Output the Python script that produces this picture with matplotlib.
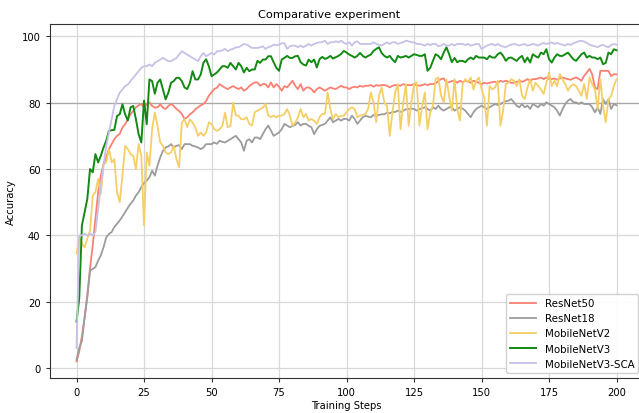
import matplotlib
matplotlib.use("Agg")
import matplotlib.pyplot as plt
import numpy as np

steps = np.arange(201)

resnet50 = [
    2, 5, 9.6, 15.3, 22, 30, 37, 45, 53, 58,
    61.5, 63.5, 66, 67.5, 69, 70, 70.6, 72.5, 73.5, 75,
    76.5, 77.5, 78.6, 79.2, 79.6, 78.5, 79.6, 80.1, 79, 78.5,
    78.6, 79.5, 78.5, 78.1, 79, 79.6, 79, 78.1, 77.5, 76.6,
    75.1, 75.6, 76.5, 77.1, 78, 78.6, 79.2, 79.6, 80.5, 82.1,
    83.1, 84.1, 84.5, 85.6, 85, 84.5, 84.1, 84.6, 85, 84.5,
    84.1, 84.6, 83.6, 84.1, 85, 85.6, 86.1, 86.1, 85.1, 85.6,
    85.6, 84.6, 86.1, 84.6, 85.6, 84.8, 83.6, 85, 84.6, 85.6,
    86.6, 85.1, 84.1, 85.6, 83.6, 84.5, 84.6, 84.1, 83.1, 84.1,
    84.6, 84.1, 83.6, 84.1, 84.6, 84.3, 84.1, 84.6, 85.1, 84.6,
    84.6, 84.1, 84.6, 84.8, 84.6, 85.1, 84.8, 85.1, 85.1, 85.3,
    84.8, 85.3, 85.1, 85.3, 85.3, 85.1, 84.6, 85.1, 85.3, 85.3,
    85.1, 85.6, 85.3, 85.3, 85.3, 85.6, 85.3, 85.1, 85.3, 85.6,
    85.3, 85.6, 85.6, 85.8, 86.5, 87.1, 87.3, 86, 86.2, 86.5,
    86.6, 86, 86.6, 86.2, 86.6, 86.4, 86, 86.6, 86.3, 86,
    85.6, 86, 85.8, 86, 86.2, 86.3, 86, 86.6, 86.3, 86.6,
    86.3, 86, 86, 86.3, 86.6, 86.3, 86.6, 87.1, 86.6, 87.1,
    87.1, 87.3, 87.6, 87.1, 87.6, 87.2, 87.1, 87.3, 86.9, 87.3,
    87.6, 87.3, 87.1, 86.9, 87.3, 87.6, 87.2, 86.6, 88.1, 89.1,
    90.2, 88.5, 84.5, 84.1, 89.6, 89.6, 89.6, 89.6, 88, 88.6,
    88.5,
]

resnet18 = [
    2.5, 6, 8.2, 15.3, 21.4, 29.4, 29.9, 30.4, 32.4, 34,
    36.4, 39.4, 40.4, 41, 42.5, 43.5, 44.5, 45.7, 47, 48.3,
    49.5, 50.5, 52, 53, 54.5, 55.8, 56.5, 57.5, 59.5, 58,
    61, 63.5, 65.5, 66.5, 66.8, 67.5, 66.5, 67, 67.2, 66,
    67.5, 67.5, 67.5, 67, 66.8, 66.5, 66, 66.5, 67.5, 67.5,
    67.5, 68, 67.6, 68.5, 68.2, 68, 68.5, 69, 69.5, 70,
    69, 68, 65.5, 68.5, 69, 68, 69.5, 69.5, 69, 70.5,
    72, 73.1, 71.6, 70, 70.5, 71, 72, 73.6, 73.1, 72.6,
    73, 73.3, 74.1, 73.1, 73.6, 73.6, 73, 72.6, 70.5, 72,
    73, 73.3, 73.6, 74.6, 75.6, 74.1, 74.6, 75.1, 74.6, 75.1,
    75.1, 74.6, 76.1, 75.1, 73.6, 74.6, 75.6, 76, 75.8, 75.6,
    76.3, 75.9, 76.3, 76.5, 76.5, 77, 76.8, 77.2, 77.2, 77.6,
    77.2, 77.6, 78, 78.1, 78.2, 78.1, 77.6, 78.1, 78.3, 78.6,
    78.1, 77.6, 78.6, 78.1, 79.1, 78.1, 77.6, 78.1, 78.6, 78.6,
    77.6, 78.1, 78.6, 78.2, 77.6, 76.6, 75.6, 77.1, 78.1, 78.6,
    79.1, 78.6, 78.1, 78.6, 79.1, 79.6, 79.3, 79.6, 80.1, 80.4,
    80.6, 81.1, 80.1, 79.1, 78.6, 79.6, 78.6, 79.1, 78.1, 79.6,
    79.1, 78.6, 79.6, 79.1, 80.1, 79.6, 79.1, 78.6, 77.6, 76.1,
    78.1, 79.6, 80.6, 81.1, 80.1, 80.1, 79.6, 80.1, 79.6, 79.6,
    79.6, 78.6, 77.1, 78.6, 76.6, 81.1, 79.6, 81, 78.1, 79.6,
    79.2,
]

mobilenet_v2 = [
    34.5, 39.5, 37.5, 36.4, 39, 41.4, 52, 53, 57, 52.5,
    61.5, 62, 66, 62, 63, 53, 50, 58, 67, 66,
    64.5, 64, 60, 67.5, 64, 43, 65, 61, 72, 77,
    73, 68, 67, 65, 64.5, 65, 67, 63, 60.5, 74,
    75, 72.6, 75, 74, 72.5, 70, 71, 70, 71, 74.1,
    73.5, 72, 71.5, 72, 73, 77, 72.6, 73, 80, 76.1,
    76.1, 75, 75, 75.6, 73.6, 73.1, 77.1, 77.6, 78, 78.5,
    79.6, 76.1, 75.6, 76.1, 75.6, 76, 76.1, 76.6, 78.1, 76.1,
    73.1, 74, 75.5, 78.1, 75.6, 76.6, 74.6, 75.1, 74.5, 73.6,
    75.6, 76.6, 76.6, 83.1, 78.1, 75.1, 76.6, 75.6, 76, 76.1,
    77.1, 78.1, 78.6, 78.1, 75.6, 76.1, 76.3, 76.6, 78.1, 83.1,
    80, 74.1, 82, 84.6, 80, 79, 70, 77, 83.1, 85.6,
    72, 80, 85.6, 73, 80, 85.6, 86.1, 73.1, 79, 83.1,
    72, 77, 79.1, 87.1, 87.6, 82.1, 80.1, 87, 82, 77.6,
    87.1, 78.1, 74.6, 85.6, 87.1, 86.1, 87.6, 84, 86.6, 87.6,
    84.1, 81.5, 73.1, 85, 84, 84.6, 86.6, 73.1, 77.6, 85.6,
    86.1, 87.1, 86.6, 85, 87.1, 82.1, 81.1, 84.5, 87.1, 83.6,
    86, 85, 84, 82.6, 86, 89.1, 85, 86.6, 85, 88.6,
    87, 85.6, 83.6, 85, 85.6, 85, 83.6, 82.1, 85.6, 81.1,
    87.6, 85.5, 84, 78.1, 87.1, 79.1, 74.1, 81.1, 82, 85,
    87.1,
]

mobilenet_v3 = [
    14, 21, 43, 47, 51, 60, 59, 64.5, 62, 64,
    66.5, 68.5, 71.5, 71.7, 71.8, 76, 76.5, 79.5, 76.5, 74.6,
    78.6, 79, 75, 70.5, 68, 80.6, 73.5, 87, 86.5, 82.7,
    86, 87, 84, 81, 83, 86, 86.5, 87.5, 87.5, 86.5,
    84.6, 84.1, 86, 89.5, 87, 87, 88.5, 92, 93.1, 91,
    88, 88.5, 89.1, 90, 91, 91, 90.5, 92, 91, 90,
    92, 91, 89.1, 90.5, 89.5, 90, 90, 92.6, 92, 93,
    93, 94, 94, 92.2, 90.5, 89.6, 93, 93.5, 94.1, 93.5,
    93.5, 94, 94.1, 92.2, 91.5, 91.2, 93, 92.2, 93, 90.6,
    93.1, 93.8, 93.2, 93.5, 94.1, 93.3, 93.7, 94.1, 94.7, 95.6,
    95.1, 94.5, 94.1, 93.6, 94.1, 95, 94.1, 93.6, 94.1, 94.5,
    95.6, 96.2, 96.7, 95, 94.1, 93.6, 94.1, 93, 92.2, 94.1,
    93.6, 93.8, 94.1, 93.6, 94.1, 94.6, 94.4, 94.1, 94.1, 94.6,
    89.6, 90.5, 92.6, 94.6, 94.1, 93.1, 95.1, 96.7, 94.6, 92.2,
    93.5, 92.2, 92.6, 92.6, 92.2, 93.1, 93.6, 93.1, 94.1, 93.6,
    93.6, 93.6, 93.1, 94.1, 93.6, 93.6, 94.6, 95.1, 94.1, 92.6,
    93.5, 93.6, 93.1, 92.6, 93.5, 94.1, 92.2, 93.6, 92.1, 94.6,
    94, 93.6, 95.1, 94.6, 96.1, 93.1, 92.1, 93.6, 94.6, 94.1,
    94.1, 94.6, 95.1, 94.1, 93.1, 92.6, 93.6, 94.6, 95.1, 93.6,
    94.1, 93.6, 93.6, 93.1, 93.6, 91.6, 92, 95.1, 94.6, 96.1,
    95.8,
]

mobilenet_v3_sca = [
    6, 40, 40, 40.5, 40, 40.5, 40, 41, 48, 55,
    61, 67, 71, 75, 79, 81, 83, 84, 85, 85.5,
    86.5, 87.5, 88.5, 89.5, 90.5, 91, 91, 91.5, 91, 92,
    92.5, 93, 93.5, 93, 92.5, 92.5, 93, 93.5, 94.5, 95.5,
    95, 94.5, 94, 93.5, 93, 92.5, 94, 95, 94, 94.5,
    95, 94.5, 95.5, 95.5, 95.8, 96.2, 95.5, 96, 96.2, 96.7,
    96.7, 97.2, 97.7, 97.5, 97, 96.5, 96.5, 96.5, 96.7, 97,
    96.2, 96.7, 97, 97.5, 97.3, 97.5, 97.9, 97.9, 96.2, 97,
    97.2, 97.2, 96.7, 97.2, 96.7, 97.2, 97.7, 97.2, 97.7, 98,
    98.2, 98.2, 98.7, 97.7, 98.2, 98.2, 98.5, 98.2, 98.7, 98,
    97.7, 98.2, 97.2, 98.2, 98.5, 97.7, 97.7, 97.7, 97.7, 97.7,
    98.2, 97.7, 97.5, 97.2, 97.7, 98.2, 97.7, 98.2, 98.2, 97.7,
    98, 98.2, 98.7, 98.5, 98.2, 98.2, 97.7, 97.7, 97.5, 97.2,
    97.7, 97.4, 97.7, 97.7, 97, 97.2, 97.7, 97.2, 97.2, 97.7,
    97.2, 97.7, 97.7, 97.7, 97.4, 97.7, 97.2, 97.4, 97.7, 97.7,
    96.2, 96.7, 97.2, 97.5, 97.7, 97.2, 97.7, 97.2, 96.9, 96.7,
    97.2, 97.5, 97.7, 97.5, 97.2, 97.5, 97.7, 97.2, 97.4, 97.7,
    97.5, 97.2, 97.7, 98, 97.7, 97.9, 98.2, 97.7, 98, 97.7,
    97.5, 97.2, 97.7, 97.4, 97.9, 98.2, 98.5, 98.7, 98.4, 98,
    97.5, 97.2, 97, 96.7, 97.2, 97.4, 97, 96.7, 97.4, 97.7,
    97.5,
]

fig = plt.figure(figsize=(6.39, 4.14), dpi=100)
# axes run a little past the right edge, as in the reference
ax = fig.add_axes([0.0775, 0.0845, 0.9296, 0.855])

ax.plot(steps, resnet50, color='#fa8072', lw=1.3, label='ResNet50')
ax.plot(steps, resnet18, color='#9c9c9c', lw=1.3, label='ResNet18')
ax.plot(steps, mobilenet_v2, color='#f5cf66', lw=1.3, label='MobileNetV2')
ax.plot(steps, mobilenet_v3, color='#138a13', lw=1.4, label='MobileNetV3')
ax.plot(steps, mobilenet_v3_sca, color='#c8c0e6', lw=1.3, label='MobileNetV3-SCA')

ax.set_xlim(-10, 210)
ax.set_ylim(-3.0, 103.7)
ax.set_xticks(np.arange(0, 201, 25))
ax.set_yticks(np.arange(0, 101, 20))
ax.grid(True, color='#d8d8d8', lw=0.9)
ax.axhline(80, color='#a8a8a8', lw=0.9, zorder=0.8)
ax.set_axisbelow(True)

ax.tick_params(labelsize=7.2, length=3, color='#333333')
ax.set_title('Comparative experiment', fontsize=8.2, pad=5, x=0.471)
ax.set_xlabel('Training Steps', fontsize=7.2, labelpad=2)
ax.set_ylabel('Accuracy', fontsize=7.2, labelpad=4)
for side in ['left', 'bottom', 'top']:
    ax.spines[side].set_color('#333333')

ax.legend(loc='lower right', fontsize=7.4, handlelength=2.6, framealpha=0.9)

fig.savefig('out.png', dpi=100)
